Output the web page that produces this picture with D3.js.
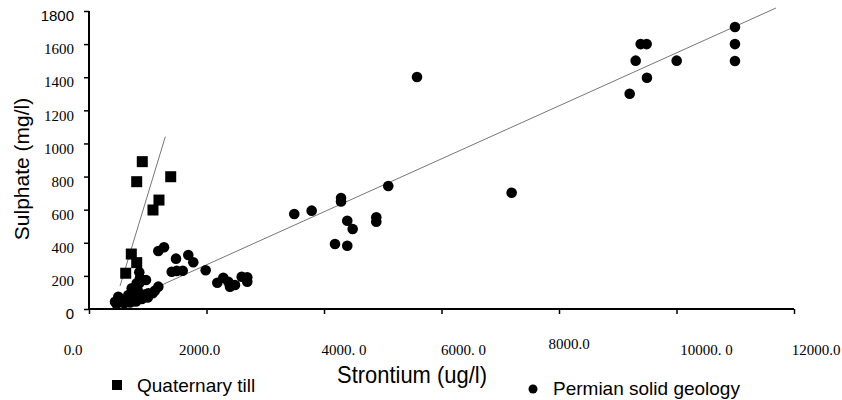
<!DOCTYPE html>
<html><head><meta charset="utf-8">
<script src="https://cdn.jsdelivr.net/npm/d3@7"></script>
<style>body{margin:0;background:#fff}svg{display:block}</style>
</head><body><svg id="c" width="842" height="400"></svg>
<script>
// Quaternary till (squares)
const quatX = [907, 812, 1391, 1191, 1089, 720, 812, 625];
const quatY = [890, 769, 799, 658, 598, 332, 280, 216];
// Permian solid geology (circles)
const permX = [10995, 10995, 10995, 9390, 9492, 9305, 9497, 9203, 10003, 5583, 7194,
  3494, 3790, 4290, 4290, 5094, 4396, 4488, 4890, 4890, 4187, 4396,
  1180, 1277, 1481, 1690, 1775, 1408, 1493, 1595, 1986, 2184, 2286, 2371, 2400, 2485, 2599, 2694, 2694,
  856, 970, 856, 1180, 1084, 981, 443, 499, 584, 669, 754, 839, 924, 1009, 642, 528, 727, 812, 868,
  700, 800, 900, 1000, 1120, 600, 470];
const permY = [1703, 1600, 1498, 1600, 1600, 1500, 1397, 1300, 1500, 1401, 702,
  574, 594, 670, 650, 743, 533, 483, 554, 527, 393, 382,
  350, 373, 304, 326, 282, 225, 230, 231, 234, 159, 189, 165, 135, 145, 195, 192, 165,
  222, 175, 155, 135, 95, 91, 44, 74, 54, 85, 65, 105, 85, 95, 54, 44, 125, 155, 185,
  40, 45, 60, 70, 110, 35, 30];
// trend lines (endpoints)
const quatTrendX = [528, 1299];
const quatTrendY = [139, 1041];
const permTrendX = [400, 11693];
const permTrendY = [11, 1818];
// ticks
const xTicks = [0, 2000, 4000, 6000, 8000, 10000, 12000];
const xTickLabels = ["0.0", "2000.0", "4000. 0", "6000. 0", "8000.0", "10000. 0", "12000.0"];
const yTicks = [0, 200, 400, 600, 800, 1000, 1200, 1400, 1600, 1800];

// layout nudges for x tick labels (as placed in the original)
const xLabelDx = [-16, -7, 20, 22, 10, 30, 22];
const xLabelDy = [0, 0, 0, 0, -6, 0, 0];

const svg = d3.select("#c");
const x = d3.scaleLinear().domain([0, 12000]).range([89, 794]);
const y = d3.scaleLinear().domain([0, 1800]).range([309, 11]);

// axes
const yAxis = svg.append("g").attr("transform", "translate(89,0)")
  .call(d3.axisLeft(y).tickValues(yTicks).tickSize(5).tickPadding(10).tickFormat(d3.format("d")));
yAxis.select(".domain").attr("stroke", "#000").attr("stroke-width", 2).attr("d", "M0," + y(1800) + "V" + y(0));
yAxis.selectAll(".tick line").attr("stroke", "#000").attr("stroke-width", 1.5);
yAxis.selectAll(".tick text")
  .attr("fill", "#000")
  .attr("font-family", d => (d === 0 || d === 1800) ? "Liberation Sans, Arial, sans-serif" : "Liberation Serif, Times New Roman, serif")
  .attr("font-size", 15)
  .attr("dy", "0.65em");

const xAxis = svg.append("g").attr("transform", "translate(0,309)")
  .call(d3.axisBottom(x).tickValues(xTicks).tickSize(5).tickFormat(""));
xAxis.select(".domain").attr("stroke", "#000").attr("stroke-width", 2).attr("d", "M" + x(0) + ",0H" + x(12000));
xAxis.selectAll(".tick line").attr("stroke", "#000").attr("stroke-width", 1.5);

svg.append("g").selectAll("text").data(xTicks).join("text")
  .attr("x", (d, i) => x(d) + xLabelDx[i])
  .attr("y", (d, i) => 355 + xLabelDy[i])
  .attr("text-anchor", "middle")
  .attr("font-family", "Liberation Serif, Times New Roman, serif")
  .attr("font-size", 15)
  .attr("fill", "#000")
  .text((d, i) => xTickLabels[i]);

// trend lines
const line = d3.line().x(d => x(d[0])).y(d => y(d[1]));
svg.append("path").datum(quatTrendX.map((v, i) => [v, quatTrendY[i]]))
  .attr("d", line).attr("stroke", "#777").attr("stroke-width", 1).attr("fill", "none");
svg.append("path").datum(permTrendX.map((v, i) => [v, permTrendY[i]]))
  .attr("d", line).attr("stroke", "#777").attr("stroke-width", 1).attr("fill", "none");

// squares
const sq = 11;
svg.append("g").selectAll("rect").data(quatX.map((v, i) => [v, quatY[i]])).join("rect")
  .attr("x", d => x(d[0]) - sq / 2).attr("y", d => y(d[1]) - sq / 2)
  .attr("width", sq).attr("height", sq).attr("fill", "#000");

// circles
svg.append("g").selectAll("circle").data(permX.map((v, i) => [v, permY[i]])).join("circle")
  .attr("cx", d => x(d[0])).attr("cy", d => y(d[1])).attr("r", 5.3).attr("fill", "#000");

// axis titles
svg.append("text").attr("transform", "translate(29,169) rotate(-90)")
  .attr("text-anchor", "middle").attr("font-family", "Liberation Sans, Arial, sans-serif")
  .attr("font-size", 21).attr("fill", "#000").text("Sulphate (mg/l)");
svg.append("text").attr("x", 337).attr("y", 383)
  .attr("font-family", "Liberation Sans, Arial, sans-serif")
  .attr("font-size", 24).attr("textLength", 150).attr("lengthAdjust", "spacingAndGlyphs")
  .attr("fill", "#000").text("Strontium (ug/l)");

// legend
svg.append("rect").attr("x", 112).attr("y", 380).attr("width", 10).attr("height", 10).attr("fill", "#000");
svg.append("text").attr("x", 137).attr("y", 392)
  .attr("font-family", "Liberation Sans, Arial, sans-serif").attr("font-size", 19)
  .attr("fill", "#000").text("Quaternary till");
svg.append("circle").attr("cx", 533).attr("cy", 389).attr("r", 4.5).attr("fill", "#000");
svg.append("text").attr("x", 553).attr("y", 395)
  .attr("font-family", "Liberation Sans, Arial, sans-serif").attr("font-size", 19)
  .attr("fill", "#000").text("Permian solid geology");
</script></body></html>
